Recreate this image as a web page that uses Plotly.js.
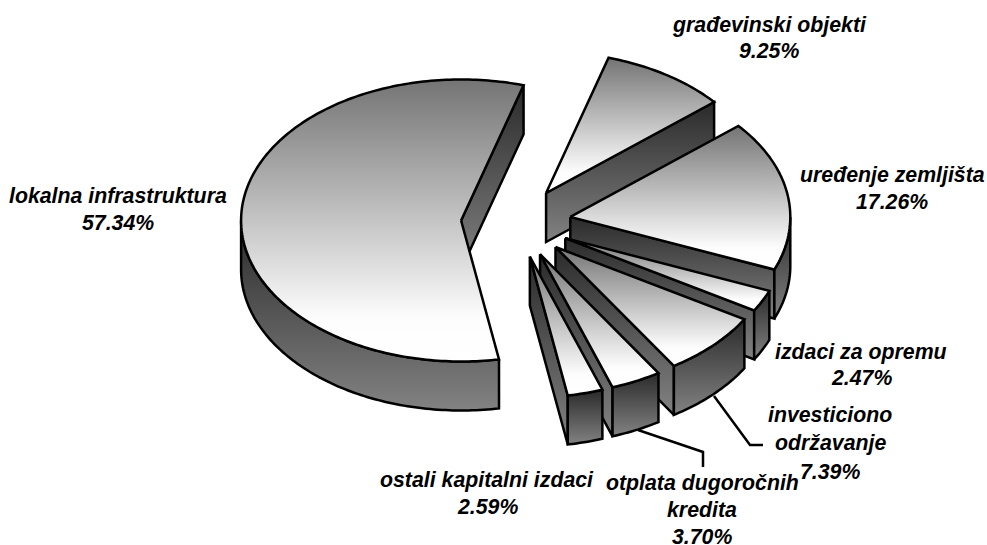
<!DOCTYPE html>
<html><head><meta charset="utf-8">
<script src="https://cdn.plot.ly/plotly-3.0.1.min.js"></script>
<style>html,body{margin:0;padding:0;background:#fff}#c{width:987px;height:545px}</style>
</head><body><div id="c"></div>
<script>
// Data, clockwise from the first slice
const names = ['građevinski objekti','uređenje zemljišta','izdaci za opremu','investiciono održavanje','otplata dugoročnih kredita','ostali kapitalni izdaci','lokalna infrastruktura'];
const values = [9.25,17.26,2.47,7.39,3.70,2.59,57.34];
const labelLines = [
  ['građevinski objekti','9.25%'],
  ['uređenje zemljišta','17.26%'],
  ['izdaci za opremu','2.47%'],
  ['investiciono','održavanje','7.39%'],
  ['otplata dugoročnih','kredita','3.70%'],
  ['ostali kapitalni izdaci','2.59%'],
  ['lokalna infrastruktura','57.34%']
];
const labelX = [769,892,861,830,702,487,118];
const labelY = [[25,51],[175,202],[352,378],[415,443,472],[483,510,537],[480,507],[196,223]];
const leaderX = [[714,750,763],[638,703,703]];
const leaderY = [[396,445,445],[430,452,467]];

// Projection of the pie on the plot axes
const cx=516, cy=222.5, ra=220, rb=141, depth=49, explode=0.25, startAngle=16.5;
const topScale=[[0,'#ffffff'],[0.15,'#fdfdfd'],[1,'#747474']];
const wallScale=[[0,'#828282'],[1,'#2a2a2a']];
const rad=d=>d*Math.PI/180;
const total=values.reduce((s,v)=>s+v,0);
const traces=[];
function poly(xs,ys,scale){
  traces.push({type:'scatter',mode:'lines',x:xs,y:ys,fill:'toself',hoverinfo:'skip',
    line:{color:'#000',width:2.5,simplify:false},
    fillgradient:{type:'vertical',colorscale:scale}});
}
const slices=[];
let ang=startAngle;
values.forEach((v,i)=>{const sweep=v/total*360;slices.push({i,a0:ang,a1:ang+sweep});ang+=sweep;});
// main slice sits behind everything else
const order=[6,0,1,2,3,4,5];
order.forEach(k=>{
  const {a0,a1}=slices[k], mid=rad((a0+a1)/2);
  const ox=cx+ra*explode*Math.sin(mid), oy=cy-rb*explode*Math.cos(mid);
  const px=d=>ox+ra*Math.sin(rad(d)), py=d=>oy-rb*Math.cos(rad(d));
  // radial walls facing the viewer
  if(Math.sin(rad(a1))>0) poly([ox,px(a1),px(a1),ox,ox],[oy,py(a1),py(a1)+depth,oy+depth,oy],wallScale);
  if(Math.sin(rad(a0))<0) poly([ox,px(a0),px(a0),ox,ox],[oy,py(a0),py(a0)+depth,oy+depth,oy],wallScale);
  // outer wall: front half only
  const w0=Math.max(a0,90), w1=Math.min(a1,270);
  if(w1>w0){
    const up=[];for(let d=w0;d<w1;d+=1)up.push(d);up.push(w1);
    const xs=up.map(px).concat(up.slice().reverse().map(px));
    const ys=up.map(py).concat(up.slice().reverse().map(d=>py(d)+depth));
    xs.push(xs[0]);ys.push(ys[0]);
    poly(xs,ys,wallScale);
  }
  // top face
  const arc=[];for(let d=a0;d<a1;d+=1)arc.push(d);arc.push(a1);
  poly([ox].concat(arc.map(px),[ox]),[oy].concat(arc.map(py),[oy]),topScale);
});
leaderX.forEach((xs,i)=>traces.push({type:'scatter',mode:'lines',x:xs,y:leaderY[i],hoverinfo:'skip',line:{color:'#000',width:2.5}}));

const annotations=[];
labelLines.forEach((lines,i)=>lines.forEach((t,j)=>annotations.push({
  text:t,x:labelX[i],y:labelY[i][j],xref:'x',yref:'y',showarrow:false,xanchor:'center',yanchor:'middle',
  font:{family:'"Liberation Sans",Arial,sans-serif',size:21.3,weight:'bold',style:'italic',color:'#000'}
})));
const hidden={visible:false,fixedrange:true};
Plotly.newPlot('c',traces,{
  width:987,height:545,margin:{l:0,r:0,t:0,b:0},showlegend:false,
  paper_bgcolor:'#fff',plot_bgcolor:'#fff',
  xaxis:Object.assign({},hidden,{range:[0,987]}),
  yaxis:Object.assign({},hidden,{range:[545,0]}),
  annotations
},{displayModeBar:false,staticPlot:true});
</script></body></html>
